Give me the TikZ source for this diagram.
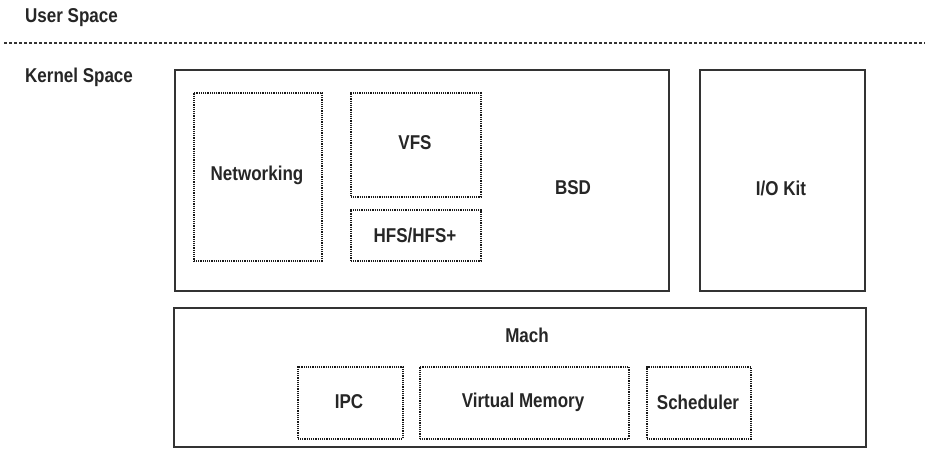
\documentclass[tikz,border=0pt]{standalone}
\usepackage{fontspec}
\setmainfont[FakeStretch=0.85]{Liberation Sans}
\begin{document}
\begin{tikzpicture}[x=1pt,y=-1pt,
  solidbox/.style={draw=black!80, line width=1.6pt, inner sep=0pt, anchor=north west},
  dotbox/.style={draw=black!90, line width=1.6pt, dash pattern=on 1.2pt off 1.0pt, inner sep=0pt, anchor=north west},
  lbl/.style={font=\fontsize{20}{24}\selectfont\bfseries, text=black!85, inner sep=0pt},
  hdr/.style={font=\fontsize{20}{24}\selectfont\bfseries, text=black!85, inner sep=0pt, anchor=west}]
\useasboundingbox[fill=white] (0,0) rectangle (925,448);
% headers
\node[hdr] (user) at (25,18) {User Space};
\node[hdr] (kernel) at (25,77) {Kernel Space};
\coordinate (dl) at (4,43);
\coordinate (dr) at (925,43);
\draw[black!80, line width=1.3pt, dash pattern=on 3pt off 2pt] (dl) -- (dr);
% BSD
\node[solidbox, minimum width=494pt, minimum height=221pt] (bsd) at (174,69) {};
\node[lbl] (bsdl) at (573,188) {BSD};
\node[dotbox, minimum width=128pt, minimum height=168pt] (net) at (193,92) {};
\node[lbl] (netl) at (257,175) {Networking};
\node[dotbox, minimum width=130pt, minimum height=104pt] (vfs) at (350,92) {};
\node[lbl] (vfsl) at (415,143) {VFS};
\node[dotbox, minimum width=130pt, minimum height=51pt] (hfs) at (350,209) {};
\node[lbl] (hfsl) at (415,235) {HFS/HFS+};
% I/O Kit
\node[solidbox, minimum width=165pt, minimum height=221pt] (iokit) at (699,69) {};
\node[lbl] (iokitl) at (781,188) {I/O Kit};
% Mach
\node[solidbox, minimum width=692pt, minimum height=139pt] (mach) at (173,307) {};
\node[lbl] (machl) at (527,335) {Mach};
\node[dotbox, minimum width=105pt, minimum height=72pt] (ipc) at (297,366) {};
\node[lbl] (ipcl) at (349,402) {IPC};
\node[dotbox, minimum width=209pt, minimum height=72pt] (vm) at (419,366) {};
\node[lbl] (vml) at (523,402) {Virtual Memory};
\node[dotbox, minimum width=104pt, minimum height=72pt] (sch) at (646,366) {};
\node[lbl] (schl) at (698,402) {Scheduler};
\end{tikzpicture}
\end{document}
